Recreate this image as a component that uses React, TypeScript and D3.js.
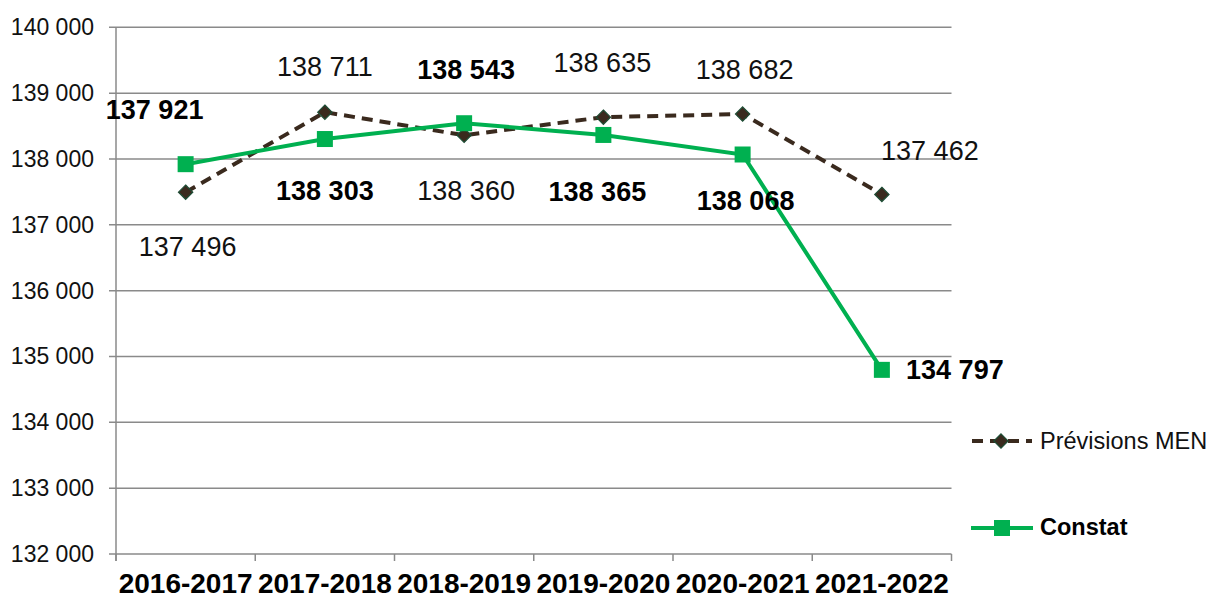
import { useEffect, useRef } from 'react'
import * as d3 from 'd3'

const categories = ['2016-2017', '2017-2018', '2018-2019', '2019-2020', '2020-2021', '2021-2022']
const previsions = [137496, 138711, 138360, 138635, 138682, 137462]
const constat = [137921, 138303, 138543, 138365, 138068, 134797]
const yTicks = [132000, 133000, 134000, 135000, 136000, 137000, 138000, 139000, 140000]

// label offsets from each point (dx, dy)
const prevOffsets = [[2, 55], [0, -45], [2, 56], [-1, -54], [2, -44], [48, -43]]
const constOffsets = [[-31, -54], [0, 52], [2, -53], [-6, 57], [3, 47], [73, 0]]

const W = 1209
const H = 599
const FONT = 'Liberation Sans, Arial, sans-serif'
const GREEN = '#00b050'
const BROWN = '#3a2a1e'

const fmt = d3.formatLocale({ decimal: ',', thousands: ' ', grouping: [3], currency: ['', ' €'] }).format(',d')

const App = () => {
  const svgRef = useRef(null)

  useEffect(() => {
    const svg = d3.select(svgRef.current)
    svg.selectAll('*').remove()

    const x = d3.scaleBand().domain(categories).range([116, 951.5])
    const y = d3.scaleLinear().domain([132000, 140000]).range([554, 27.3])
    const cx = (c) => x(c) + x.bandwidth() / 2

    // gridlines
    svg.append('g')
      .selectAll('line')
      .data(yTicks)
      .join('line')
      .attr('x1', 109).attr('x2', 951.5)
      .attr('y1', d => y(d)).attr('y2', d => y(d))
      .attr('stroke', '#8a8a8a').attr('stroke-width', 1.5)

    // y tick labels
    svg.append('g')
      .selectAll('text')
      .data(yTicks)
      .join('text')
      .attr('x', 94).attr('y', d => y(d))
      .attr('text-anchor', 'end').attr('dominant-baseline', 'central')
      .attr('font-family', FONT).attr('font-size', 23).attr('fill', '#111')
      .text(d => fmt(d))

    // axes
    svg.append('line')
      .attr('x1', 116).attr('x2', 116).attr('y1', y(140000)).attr('y2', 561)
      .attr('stroke', '#8a8a8a').attr('stroke-width', 1.5)
    const bounds = categories.map(c => x(c)).concat([x.range()[1]])
    svg.append('g')
      .selectAll('line')
      .data(bounds)
      .join('line')
      .attr('x1', d => d).attr('x2', d => d).attr('y1', y(132000)).attr('y2', 561)
      .attr('stroke', '#8a8a8a').attr('stroke-width', 1.5)

    svg.append('g')
      .selectAll('text')
      .data(categories)
      .join('text')
      .attr('x', d => cx(d)).attr('y', 593)
      .attr('text-anchor', 'middle')
      .attr('font-family', FONT).attr('font-size', 28).attr('font-weight', 'bold').attr('fill', '#000')
      .text(d => d)

    const line = d3.line().x(d => d[0]).y(d => d[1])

    // Prévisions MEN
    const prevPts = categories.map((c, i) => [cx(c), y(previsions[i])])
    svg.append('path')
      .attr('d', line(prevPts))
      .attr('fill', 'none').attr('stroke', BROWN).attr('stroke-width', 4)
      .attr('stroke-dasharray', '11,7')
    const diamond = d3.symbol().type(d3.symbolDiamond2).size(130)
    svg.append('g')
      .selectAll('path')
      .data(prevPts)
      .join('path')
      .attr('d', diamond)
      .attr('transform', d => `translate(${d[0]},${d[1]})`)
      .attr('fill', BROWN).attr('stroke', '#1d4d35').attr('stroke-width', 1.2)

    // Constat
    const constPts = categories.map((c, i) => [cx(c), y(constat[i])])
    svg.append('path')
      .attr('d', line(constPts))
      .attr('fill', 'none').attr('stroke', GREEN).attr('stroke-width', 4)
    svg.append('g')
      .selectAll('rect')
      .data(constPts)
      .join('rect')
      .attr('x', d => d[0] - 8).attr('y', d => d[1] - 8)
      .attr('width', 16).attr('height', 16)
      .attr('fill', GREEN)

    // data labels
    svg.append('g')
      .selectAll('text')
      .data(prevPts)
      .join('text')
      .attr('x', (d, i) => d[0] + prevOffsets[i][0])
      .attr('y', (d, i) => d[1] + prevOffsets[i][1])
      .attr('text-anchor', 'middle').attr('dominant-baseline', 'central')
      .attr('font-family', FONT).attr('font-size', 27).attr('fill', '#111')
      .text((d, i) => fmt(previsions[i]))

    svg.append('g')
      .selectAll('text')
      .data(constPts)
      .join('text')
      .attr('x', (d, i) => d[0] + constOffsets[i][0])
      .attr('y', (d, i) => d[1] + constOffsets[i][1])
      .attr('text-anchor', 'middle').attr('dominant-baseline', 'central')
      .attr('font-family', FONT).attr('font-size', 27).attr('font-weight', 'bold').attr('fill', '#000')
      .text((d, i) => fmt(constat[i]))

    // legend
    const lg = svg.append('g')
    lg.append('line')
      .attr('x1', 972).attr('x2', 1032).attr('y1', 441).attr('y2', 441)
      .attr('stroke', BROWN).attr('stroke-width', 4).attr('stroke-dasharray', '11,7')
    lg.append('path')
      .attr('d', diamond)
      .attr('transform', 'translate(1001,441)')
      .attr('fill', BROWN).attr('stroke', '#1d4d35').attr('stroke-width', 1.2)
    lg.append('text')
      .attr('x', 1040).attr('y', 441).attr('dominant-baseline', 'central')
      .attr('font-family', FONT).attr('font-size', 23.5).attr('fill', '#111')
      .text('Prévisions MEN')

    lg.append('line')
      .attr('x1', 971).attr('x2', 1033).attr('y1', 528).attr('y2', 528)
      .attr('stroke', GREEN).attr('stroke-width', 4)
    lg.append('rect')
      .attr('x', 994).attr('y', 520).attr('width', 16).attr('height', 16)
      .attr('fill', GREEN)
    lg.append('text')
      .attr('x', 1040).attr('y', 527).attr('dominant-baseline', 'central')
      .attr('font-family', FONT).attr('font-size', 23.5).attr('font-weight', 'bold').attr('fill', '#000')
      .text('Constat')
  }, [])

  return (
    <svg ref={svgRef} width={W} height={H} style={{ position: 'absolute', left: 0, top: 0, background: '#fff' }} />
  )
}

export default App
